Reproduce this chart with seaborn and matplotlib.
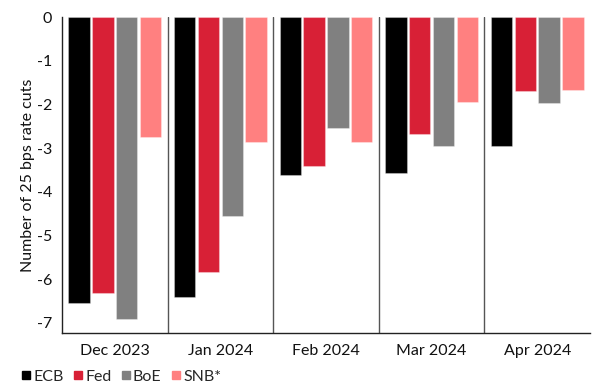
import matplotlib
matplotlib.use("Agg")
import matplotlib.pyplot as plt
import seaborn as sns
import pandas as pd
from matplotlib.lines import Line2D

months = ["Dec 2023", "Jan 2024", "Feb 2024", "Mar 2024", "Apr 2024"]
banks = ["ECB", "Fed", "BoE", "SNB*"]
ecb = [-6.55, -6.41, -3.62, -3.57, -2.96]
fed = [-6.31, -5.83, -3.40, -2.68, -1.69]
boe = [-6.90, -4.55, -2.53, -2.94, -1.97]
snb = [-2.75, -2.87, -2.85, -1.94, -1.67]
colors = ["#000000", "#D82036", "#808080", "#FF8080"]
yticks = [0, -1, -2, -3, -4, -5, -6, -7]

rows = []
for b, vals in zip(banks, [ecb, fed, boe, snb]):
    for m, v in zip(months, vals):
        rows.append({"month": m, "bank": b, "value": v})
df = pd.DataFrame(rows)

sns.set_style("white")
plt.rcParams["font.family"] = ["Lato", "DejaVu Sans"]
plt.rcParams["axes.unicode_minus"] = False

fig = plt.figure(figsize=(5.92, 3.92), dpi=100)
ax = fig.add_axes([0.1047, 0.1505, 0.892, 0.806])

sns.barplot(data=df, x="month", y="value", hue="bank", order=months,
            hue_order=banks, palette=colors, width=0.9, gap=0.1,
            saturation=1, ax=ax, legend=False,
            edgecolor=(1, 1, 1, 0.3), linewidth=0.8)

ax.set_xlim(-0.5, 4.5)
ax.set_ylim(-7.23, 0)
ax.set_yticks(yticks)
ax.set_yticklabels([str(t) for t in yticks])
ax.set_ylabel("Number of 25 bps rate cuts", fontsize=11.5, color="#111111", labelpad=1)
ax.set_xlabel("")

for xb in [0.5, 1.5, 2.5, 3.5]:
    ax.axvline(xb, color="#555555", lw=1.0, zorder=0)

ax.set_xticks(range(5))
ax.set_xticklabels(months, fontsize=11.5)
ax.set_xticks([-0.5, 0.5, 1.5, 2.5, 3.5], minor=True)
ax.tick_params(axis="x", which="major", length=0, pad=8, colors="#111111")
ax.tick_params(axis="x", which="minor", length=6, width=1, direction="out", color="#333333")
ax.tick_params(axis="y", length=4, width=1, direction="out", labelsize=11.5, colors="#111111", pad=3)

for s in ["top", "right"]:
    ax.spines[s].set_visible(False)
for s in ["left", "bottom"]:
    ax.spines[s].set_color("#222222")
    ax.spines[s].set_linewidth(1)

handles = [Line2D([], [], marker="s", linestyle="", markersize=6,
                  markerfacecolor=c, markeredgecolor=c) for c in colors]
fig.legend(handles, banks, loc="lower left", bbox_to_anchor=(0.01, -0.012),
           ncol=4, frameon=False, fontsize=11.5, handletextpad=0.0,
           columnspacing=0.45, handlelength=0.9, borderpad=0.3)

fig.savefig("out.png", dpi=100)
